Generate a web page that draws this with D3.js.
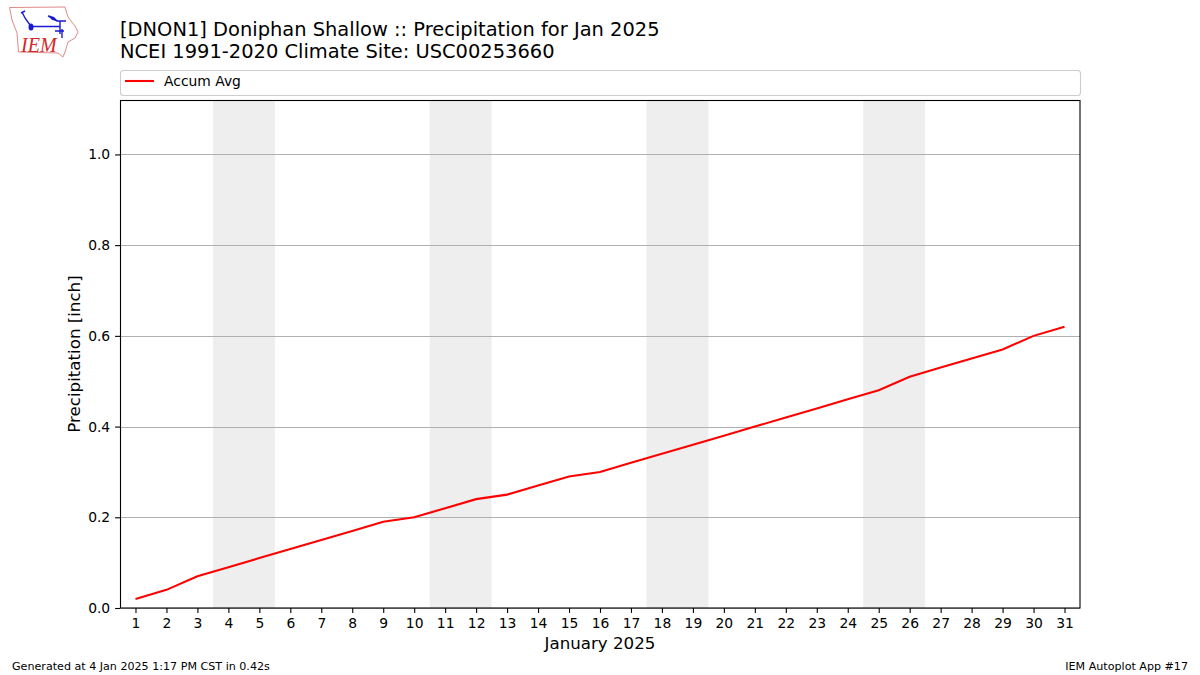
<!DOCTYPE html>
<html>
<head>
<meta charset="utf-8">
<script src="https://cdn.jsdelivr.net/npm/d3@7"></script>
<style>
  html, body { margin: 0; padding: 0; background: #fff; }
  svg { display: block; }
  text { font-family: "DejaVu Sans", sans-serif; fill: #000; }
</style>
</head>
<body>
<div id="chart"></div>
<script>
/* Chart data */
const days = d3.range(1, 32);
const accumAvg = [0.02, 0.04, 0.07, 0.09, 0.11, 0.13, 0.15, 0.17, 0.19, 0.20, 0.22,
  0.24, 0.25, 0.27, 0.29, 0.30, 0.32, 0.34, 0.36, 0.38, 0.40, 0.42, 0.44, 0.46, 0.48,
  0.51, 0.53, 0.55, 0.57, 0.60, 0.62];
const weekendStarts = [4, 11, 18, 25];
const yTicks = [0, 0.2, 0.4, 0.6, 0.8, 1.0];

let margin = {top: 100, right: 120, bottom: 67, left: 120},
    width = 1200 - margin.left - margin.right,
    height = 675 - margin.top - margin.bottom;

let svg = d3.select("#chart").append("svg")
    .attr("width", 1200)
    .attr("height", 675);

let xScale = d3.scaleLinear().domain([0.5, 31.5]).range([0, width]);
let yScale = d3.scaleLinear().domain([0, 1.12]).range([height, 0]);

let g = svg.append("g")
    .attr("transform", "translate(" + margin.left + "," + margin.top + ")");

/* Weekend bands */
g.selectAll(".weekend")
    .data(weekendStarts)
    .enter().append("rect")
    .attr("class", "weekend")
    .attr("x", d => xScale(d - 0.5))
    .attr("width", d => xScale(d + 1.5) - xScale(d - 0.5))
    .attr("y", 0)
    .attr("height", height)
    .attr("fill", "#eeeeee");

/* Gridlines */
g.selectAll(".grid")
    .data(yTicks)
    .enter().append("line")
    .attr("class", "grid")
    .attr("x1", 0)
    .attr("x2", width)
    .attr("y1", d => Math.round(yScale(d)) + 0.5)
    .attr("y2", d => Math.round(yScale(d)) + 0.5)
    .attr("stroke", "#b0b0b0")
    .attr("stroke-width", 1.1);

/* Line */
let line = d3.line()
    .x((d, i) => xScale(days[i]))
    .y(d => yScale(d));

g.append("path")
    .datum(accumAvg)
    .attr("d", line)
    .attr("fill", "none")
    .attr("stroke", "#ff0000")
    .attr("stroke-width", 2.08);

/* Axes */
let xAxis = d3.axisBottom(xScale).tickValues(days).tickFormat(d3.format("d"))
    .tickSize(4.9).tickPadding(5);
let yAxis = d3.axisLeft(yScale).tickValues(yTicks).tickFormat(d3.format(".1f"))
    .tickSize(4.9).tickPadding(4.9);

let xAxis_g = g.append("g")
    .attr("transform", "translate(0," + height + ")")
    .call(xAxis);
let yAxis_g = g.append("g").call(yAxis);

[xAxis_g, yAxis_g].forEach(function(a) {
  a.select(".domain").remove();
  a.selectAll("text").style("font-size", "13.89px").style("font-family", "DejaVu Sans");
  a.selectAll("line").attr("stroke", "#000").attr("stroke-width", 1.1);
});

/* Plot frame */
g.append("rect")
    .attr("x", 0.5)
    .attr("y", 0.5)
    .attr("width", width - 0.5)
    .attr("height", height - 0.5)
    .attr("fill", "none")
    .attr("stroke", "#000")
    .attr("stroke-width", 1.1);

/* Axis titles */
svg.append("text")
    .attr("x", margin.left + width / 2)
    .attr("y", 649)
    .attr("text-anchor", "middle")
    .style("font-size", "16.67px")
    .text("January 2025");

svg.append("text")
    .attr("transform", "translate(79.5," + (margin.top + height / 2) + ") rotate(-90)")
    .attr("text-anchor", "middle")
    .style("font-size", "16.67px")
    .text("Precipitation [inch]");

/* Titles */
svg.append("text").attr("x", 120).attr("y", 35.5)
    .style("font-size", "19.44px")
    .text("[DNON1] Doniphan Shallow :: Precipitation for Jan 2025");
svg.append("text").attr("x", 120).attr("y", 57.5)
    .style("font-size", "19.44px")
    .text("NCEI 1991-2020 Climate Site: USC00253660");

/* Legend */
svg.append("rect")
    .attr("x", 120.5).attr("y", 70.5)
    .attr("width", 960).attr("height", 25)
    .attr("rx", 3)
    .attr("fill", "#fff")
    .attr("stroke", "#cccccc")
    .attr("stroke-width", 1.1);
svg.append("line")
    .attr("x1", 125).attr("x2", 154)
    .attr("y1", 81).attr("y2", 81)
    .attr("stroke", "#ff0000")
    .attr("stroke-width", 2.08);
svg.append("text").attr("x", 164).attr("y", 86)
    .style("font-size", "13.89px")
    .text("Accum Avg");

/* Footer */
svg.append("text").attr("x", 12).attr("y", 670)
    .style("font-size", "11.11px")
    .text("Generated at 4 Jan 2025 1:17 PM CST in 0.42s");
svg.append("text").attr("x", 1188).attr("y", 670)
    .attr("text-anchor", "end")
    .style("font-size", "11.11px")
    .text("IEM Autoplot App #17");

/* IEM logo */
let logo = svg.append("g");
logo.append("path")
    .attr("d", "M9.5,7.5 L65,7 L68,17 L75,26 L78,32 L75,38 L68,42 L65,52 L63,57 L58,53 L18.5,52 L17,33 L12,20 Z")
    .attr("fill", "#fff")
    .attr("stroke", "#e08a8a")
    .attr("stroke-width", 1);
logo.append("path")
    .attr("d", "M31,26.5 L60,26.5 M60,21 L60,34 M48,16 L57,21 L66,21 M22,12 L25,18 L30,25 M21,13 L25,11 M55,31 L64,31 M62,29 L62,38")
    .attr("fill", "none")
    .attr("stroke", "#1a1ad0")
    .attr("stroke-width", 1.4);
logo.append("path")
    .attr("d", "M48,15 L54,17 L58,21 L52,20 Z")
    .attr("fill", "#1a1ad0");
logo.append("ellipse")
    .attr("cx", 31).attr("cy", 27).attr("rx", 2.5).attr("ry", 3.5)
    .attr("fill", "#1a1ad0");
logo.append("text")
    .attr("x", 21).attr("y", 52)
    .style("font-family", "Liberation Serif")
    .style("font-style", "italic")
    .style("font-size", "20px")
    .style("fill", "#d62728")
    .text("IEM");
</script>
</body>
</html>
